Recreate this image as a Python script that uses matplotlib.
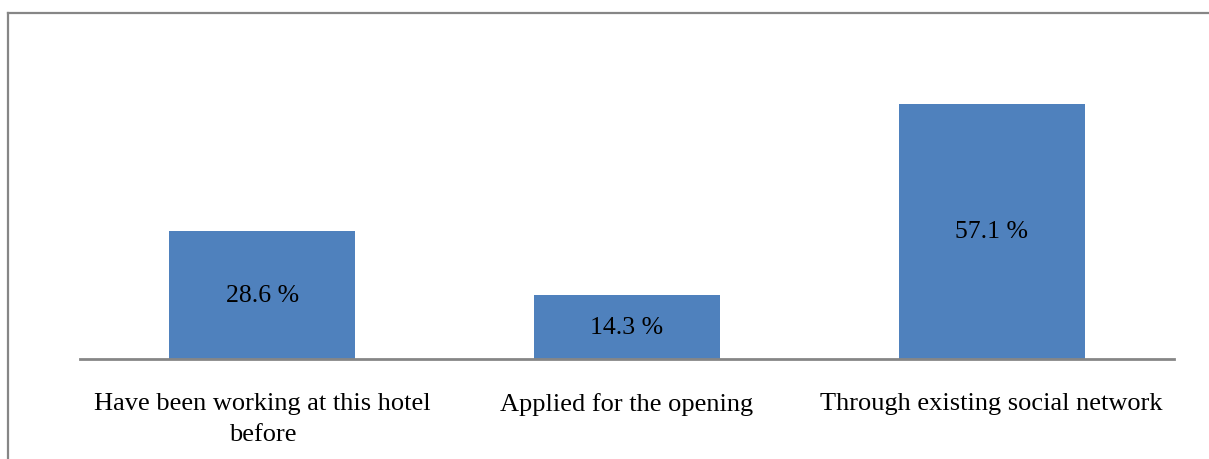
import matplotlib
matplotlib.use('Agg')
import matplotlib.pyplot as plt
from matplotlib.lines import Line2D

categories = ['Have been working at this hotel\nbefore',
              'Applied for the opening',
              'Through existing social network']
values = [28.6, 14.3, 57.1]
value_labels = ['28.6 %', '14.3 %', '57.1 %']

plt.rcParams['font.family'] = ['Liberation Serif', 'DejaVu Serif']

W, H = 1209, 460
fig = plt.figure(figsize=(W / 100, H / 100), dpi=100)
ax = fig.add_axes([80 / W, 1 - 360 / H, 1094 / W, 268 / H])

x = range(len(values))
ax.bar(x, values, width=0.51, color='#4F81BD', zorder=2)
ax.set_xlim(-0.5, 2.5)
ax.set_ylim(0, 60)

for xi, v, lab in zip(x, values, value_labels):
    ax.text(xi, v / 2, lab, ha='center', va='center', fontsize=18.5, color='black', zorder=3)

ax.set_xticks(list(x))
ax.set_xticklabels(categories, fontsize=19, multialignment='center', linespacing=1.5)
ax.tick_params(axis='x', length=0, pad=24)
ax.set_yticks([])
for s in ['top', 'right', 'left']:
    ax.spines[s].set_visible(False)
ax.spines['bottom'].set_color('#868686')
ax.spines['bottom'].set_linewidth(2)
ax.spines['bottom'].set_zorder(4)

# outer chart frame (top and left edges visible)
fig.add_artist(Line2D([7.5 / W, 1.0], [1 - 13.5 / H, 1 - 13.5 / H], color='#868686', lw=1.6))
fig.add_artist(Line2D([7.5 / W, 7.5 / W], [0, 1 - 13.5 / H], color='#868686', lw=1.6))

fig.savefig('out.png', dpi=100, facecolor='white')
